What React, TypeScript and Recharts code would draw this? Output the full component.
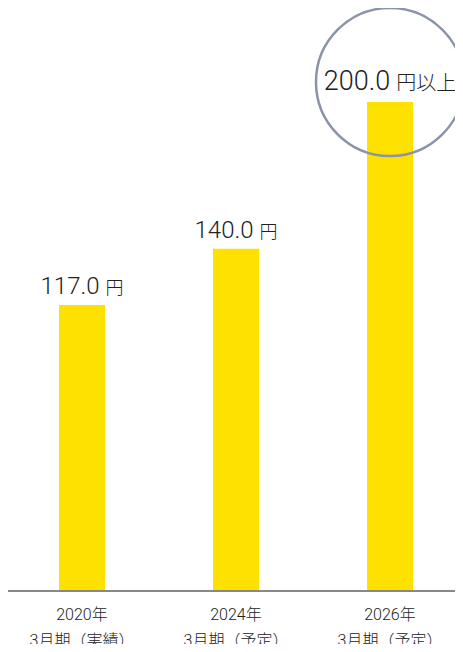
import React from 'react';
import { BarChart, Bar, XAxis, YAxis, LabelList } from 'recharts';

const years = ['2020年', '2024年', '2026年'];
const periods = ['3月期（実績）', '3月期（予定）', '3月期（予定）'];
const dividends = [117.0, 140.0, 200.0];
const suffixes = ['円', '円', '円以上'];

const data = years.map((year, i) => ({
  year,
  period: periods[i],
  value: dividends[i],
  suffix: suffixes[i],
}));

const FONT = 'Roboto, "Noto Sans CJK JP", sans-serif';
const CJK = '"Noto Sans CJK JP", sans-serif';

function CategoryTick(props: any) {
  const { x, y, payload, index } = props;
  return (
    <g>
      <text x={x} y={y + 21} textAnchor="middle" fill="#222" fontFamily={FONT} fontSize={16} fontWeight={300}>
        {payload.value}
      </text>
      <text x={x} y={y + 47} textAnchor="middle" fill="#222" fontFamily={FONT} fontSize={16} fontWeight={300}>
        {periods[index]}
      </text>
    </g>
  );
}

function ValueLabel(props: any) {
  const { x, y, width, index } = props;
  const cx = x + width / 2;
  const big = index === dividends.length - 1;
  return (
    <g>
      {big && (
        <circle cx={cx} cy={y - 20} r={74} fill="none" stroke="#8a94a6" strokeWidth={2.5} />
      )}
      <text
        x={cx}
        y={big ? y - 12 : y - 11}
        textAnchor="middle"
        fill="#222"
        fontFamily={FONT}
        fontWeight={300}
      >
        <tspan fontSize={big ? 27 : 24}>{dividends[index].toFixed(1)}</tspan>
        <tspan fontSize={big ? 20 : 18} fontFamily={CJK} dx={6}>{suffixes[index]}</tspan>
      </text>
    </g>
  );
}

export default function App() {
  return (
    <div style={{ margin: -8, width: 463, height: 652, overflow: 'hidden', background: '#fff' }}>
      <BarChart
        width={467}
        height={652}
        data={data}
        margin={{ top: 102, right: 0, bottom: 0, left: 5 }}
      >
        <XAxis
          dataKey="year"
          axisLine={{ stroke: '#888', strokeWidth: 2 }}
          tickLine={false}
          tick={<CategoryTick />}
          interval={0}
          height={61}
        />
        <YAxis hide domain={[0, 200]} />
        <Bar dataKey="value" fill="#FFE100" barSize={46} isAnimationActive={false}>
          <LabelList dataKey="value" content={<ValueLabel />} />
        </Bar>
      </BarChart>
    </div>
  );
}
